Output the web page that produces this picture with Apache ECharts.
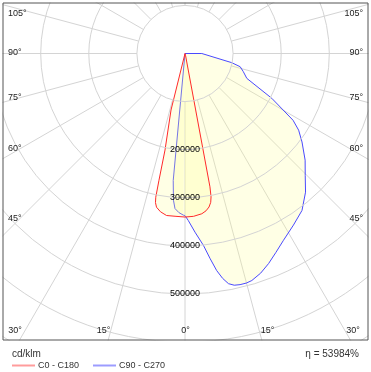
<!DOCTYPE html>
<html><head><meta charset="utf-8">
<script src="https://cdn.jsdelivr.net/npm/echarts@6/dist/echarts.min.js"></script>
<style>html,body{margin:0;padding:0;background:#fff}#c{width:371px;height:372px}</style>
</head><body><div id="c"></div>
<script>
// Luminous intensity (cd/klm) vs gamma angle (deg from nadir)
const c0Gamma   = [0, 3, 6, 7.6, 8.9, 9.8, 10.3, 10.6, 15, 30, 60, 90, 120, 150, 180];
const c0Value   = [340000, 339000, 335000, 330000, 323000, 314000, 303000, 282000, 5000, 0, 0, 0, 0, 0, 0];
const c180Gamma = [0, 3.5, 6.5, 8.8, 10.5, 11.2, 11.5, 11.6, 11.7, 13.9, 20, 30, 60, 90, 120, 150, 180];
const c180Value = [340000, 339000, 339000, 333000, 325000, 316000, 305000, 269000, 205000, 121000, 3000, 0, 0, 0, 0, 0, 0];
const c90Gamma  = [0, 1.1, 3.2, 5.5, 7, 8.3, 9.5, 10.7, 12, 13.4, 15, 16.4, 19, 21.7, 24.5, 27.8, 32.3, 36.7, 41, 44.6, 48.4, 52.9, 56, 58.3, 62.7, 68.1, 72.7, 76.5, 78.9, 90, 120, 150, 180];
const c90Value  = [337000, 347000, 372000, 401000, 430000, 456000, 474000, 487000, 492500, 494000, 494000, 492000, 483000, 470000, 455000, 439000, 422000, 407000, 382000, 356000, 334000, 305000, 285000, 264000, 203000, 138500, 127000, 118000, 99000, 35000, 0, 0, 0];
const c270Gamma = [0, 0.6, 2.2, 3.7, 4.5, 5.3, 10, 30, 60, 90, 120, 150, 180];
const c270Value = [337000, 336000, 331000, 323000, 306000, 265000, 1000, 0, 0, 0, 0, 0, 0];
const radiusTicks = [200000, 300000, 400000, 500000];
const angleTickLabels = ['105°', '90°', '75°', '60°', '45°', '30°', '15°', '0°', '15°', '30°', '45°', '60°', '75°', '90°', '105°'];
const seriesNames = ['C0 - C180', 'C90 - C270'];
const unitLabel = 'cd/klm';
const etaLabel = 'η = 53984%';

// build closed curves: right half theta=gamma, left half theta=360-gamma
function curve(rg, rv, lg, lv) {
  const pts = [];
  for (let i = 0; i < rg.length; i++) pts.push([rv[i], rg[i]]);
  for (let i = lg.length - 1; i >= 0; i--) pts.push([lv[i], 360 - lg[i]]);
  return pts;
}
const redData = curve(c0Gamma, c0Value, c180Gamma, c180Value);
const blueData = curve(c90Gamma, c90Value, c270Gamma, c270Value);

const CX = 185, CY = 53.5, PX = 48.1; // px per 100000
const FONT = 'Liberation Sans, Arial, sans-serif';

// angle label layout (left/bottom/right of frame)
const labelPos = [
  [8, 14, 'left'], [8, 53, 'left'], [8, 98, 'left'], [8, 149, 'left'], [8, 219, 'left'],
  [15, 331, 'center'], [103.5, 331, 'center'], [185.5, 331, 'center'], [267.5, 331, 'center'], [353, 331, 'center'],
  [363, 219, 'right'], [363, 149, 'right'], [363, 98, 'right'], [363, 53, 'right'], [363, 14, 'right']
];
const graphics = [
  {type: 'rect', z: 100, shape: {x: 0, y: 340.5, width: 371, height: 32}, style: {fill: '#fff'}},
  {type: 'rect', z: 100, shape: {x: 0, y: 0, width: 2.5, height: 372}, style: {fill: '#fff'}},
  {type: 'rect', z: 100, shape: {x: 368.5, y: 0, width: 3, height: 372}, style: {fill: '#fff'}},
  {type: 'rect', z: 100, shape: {x: 0, y: 0, width: 371, height: 2.5}, style: {fill: '#fff'}},
  {type: 'rect', z: 101, shape: {x: 3, y: 3, width: 365, height: 337}, style: {fill: null, stroke: '#555', lineWidth: 1}}
];
angleTickLabels.forEach((t, i) => {
  const p = labelPos[i];
  graphics.push({type: 'text', z: 102, x: p[0], y: p[1],
    style: {text: t, fill: '#222', font: '9px ' + FONT, textAlign: p[2], textVerticalAlign: 'middle'}});
});

const chart = echarts.init(document.getElementById('c'));
chart.setOption({
  animation: false,
  backgroundColor: '#fff',
  title: [
    {text: unitLabel, left: 7, top: 344, textStyle: {fontSize: 10, fontWeight: 'normal', color: '#333', fontFamily: FONT}, z: 110},
    {text: etaLabel, right: 7, top: 344, textStyle: {fontSize: 10, fontWeight: 'normal', color: '#333', fontFamily: FONT}, z: 110}
  ],
  legend: {
    left: 7, top: 356, itemWidth: 23, itemHeight: 2, itemGap: 14, icon: 'rect', z: 110,
    textStyle: {fontSize: 9, color: '#333', fontFamily: FONT, padding: [0, 0, 0, -2]},
    data: [
      {name: seriesNames[0], itemStyle: {color: '#ff9c9c'}},
      {name: seriesNames[1], itemStyle: {color: '#9c9cff'}}
    ]
  },
  polar: [
    {center: [CX, CY], radius: [0, PX * 7]},
    {center: [CX, CY], radius: [PX, 420]}
  ],
  angleAxis: [
    {polarIndex: 0, type: 'value', min: 0, max: 360, startAngle: -90, clockwise: false,
     axisLine: {show: false}, axisTick: {show: false}, axisLabel: {show: false}, splitLine: {show: false}},
    {polarIndex: 1, type: 'value', min: 0, max: 360, interval: 15, startAngle: -90, clockwise: false,
     axisLine: {show: false}, axisTick: {show: false}, axisLabel: {show: false},
     splitLine: {show: true, lineStyle: {color: '#d4d4d4', width: 1}}}
  ],
  radiusAxis: [
    {polarIndex: 0, type: 'value', min: 0, max: 700000, interval: 100000, z: 50,
     axisLine: {show: false}, axisTick: {show: false},
     axisLabel: {show: true, margin: 0, align: 'center', verticalAlign: 'middle', fontSize: 9, color: '#000', fontFamily: FONT,
       formatter: v => radiusTicks.indexOf(v) >= 0 ? String(v) : ''},
     splitLine: {show: true, lineStyle: {color: '#d4d4d4', width: 1}}},
    {polarIndex: 1, type: 'value', min: 0, max: 1, show: false}
  ],
  series: [
    {name: seriesNames[1], type: 'line', coordinateSystem: 'polar', polarIndex: 0, data: blueData,
     symbol: 'none', smooth: false, lineStyle: {color: '#4a4aff', width: 1}, itemStyle: {color: '#4a4aff'},
     areaStyle: {color: 'rgba(255,255,150,0.35)'}, z: 3},
    {name: seriesNames[0], type: 'line', coordinateSystem: 'polar', polarIndex: 0, data: redData,
     symbol: 'none', smooth: false, lineStyle: {color: '#ff2a2a', width: 1}, itemStyle: {color: '#ff2a2a'},
     areaStyle: {color: 'rgba(255,255,150,0.35)'}, z: 4}
  ],
  graphic: graphics
});
</script></body></html>
